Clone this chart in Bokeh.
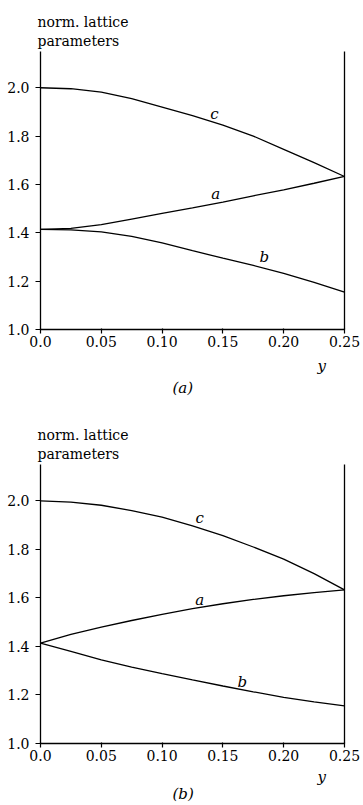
import numpy as np
from bokeh.plotting import figure
from bokeh.layouts import column
from bokeh.models import Label, LinearAxis, FixedTicker, Range1d, Title
from bokeh.embed import file_html
from bokeh.resources import INLINE

# ---- data ----
y_vals = [0.0, 0.025, 0.05, 0.075, 0.10, 0.125, 0.15, 0.175, 0.20, 0.225, 0.25]

# panel (a)
a_panel_a = [1.414, 1.418, 1.434, 1.457, 1.480, 1.503, 1.527, 1.553, 1.578, 1.605, 1.633]
b_panel_a = [1.414, 1.412, 1.404, 1.385, 1.358, 1.326, 1.295, 1.265, 1.232, 1.195, 1.155]
c_panel_a = [2.000, 1.996, 1.982, 1.955, 1.920, 1.885, 1.845, 1.800, 1.745, 1.690, 1.633]

# panel (b)
a_panel_b = [1.414, 1.450, 1.480, 1.507, 1.532, 1.556, 1.576, 1.594, 1.609, 1.622, 1.633]
b_panel_b = [1.414, 1.380, 1.345, 1.315, 1.288, 1.262, 1.237, 1.213, 1.190, 1.172, 1.155]
c_panel_b = [2.000, 1.995, 1.982, 1.960, 1.933, 1.897, 1.857, 1.810, 1.760, 1.700, 1.633]

x_ticks = [0.0, 0.05, 0.10, 0.15, 0.20, 0.25]
x_tick_labels = ["0.0", "0.05", "0.10", "0.15", "0.20", "0.25"]
y_ticks = [1.0, 1.2, 1.4, 1.6, 1.8, 2.0]
y_tick_labels = ["1.0", "1.2", "1.4", "1.6", "1.8", "2.0"]

title_text = "norm. lattice\nparameters"
x_axis_name = "y"
curve_names = ["a", "b", "c"]
panel_names = ["(a)", "(b)"]

SERIF = "DejaVu Serif"


def make_panel(a_vals, b_vals, c_vals, panel_name, height, top, bottom,
               title_standoff, xname_standoff, pname_standoff, lab_pos):
    p = figure(width=360, height=height, output_backend="svg", toolbar_location=None,
               x_range=Range1d(0.0, 0.25), y_range=Range1d(1.0, 2.15),
               min_border_left=40, min_border_right=16,
               min_border_top=top, min_border_bottom=bottom,
               background_fill_color="white", border_fill_color="white")
    p.outline_line_color = None
    p.grid.visible = False

    for ax in (p.xaxis[0], p.yaxis[0]):
        ax.axis_line_color = "black"
        ax.axis_line_width = 1.3
        ax.major_tick_line_color = "black"
        ax.major_tick_line_width = 1.2
        ax.minor_tick_line_color = None
        ax.major_label_text_font = SERIF
        ax.major_label_text_font_size = "14px"
        ax.major_label_text_color = "black"

    p.xaxis.ticker = FixedTicker(ticks=x_ticks)
    p.xaxis.major_label_overrides = {t: l for t, l in zip(x_ticks, x_tick_labels)}
    p.xaxis.major_tick_in = 1
    p.xaxis.major_tick_out = 4
    p.xaxis.major_label_standoff = 2

    p.yaxis.ticker = FixedTicker(ticks=y_ticks)
    p.yaxis.major_label_overrides = {t: l for t, l in zip(y_ticks, y_tick_labels)}
    p.yaxis.major_tick_in = 0
    p.yaxis.major_tick_out = 5
    p.yaxis.major_label_standoff = 6

    right = LinearAxis(ticker=FixedTicker(ticks=[]), major_label_text_font_size="0px",
                       axis_line_color="black", axis_line_width=1.3,
                       major_tick_line_color=None, minor_tick_line_color=None)
    p.add_layout(right, "right")

    for vals in (a_vals, b_vals, c_vals):
        p.line(y_vals, vals, line_color="black", line_width=1.3)

    for name, vals, (xl, off) in zip(curve_names, (a_vals, b_vals, c_vals), lab_pos):
        yl = float(np.interp(xl, y_vals, vals))
        p.add_layout(Label(x=xl, y=yl, y_offset=off, text=name, text_font=SERIF,
                           text_font_style="italic", text_font_size="15px",
                           text_align="center", text_baseline="middle",
                           text_color="black"))

    t = Title(text=title_text, align="left", offset=-3, standoff=title_standoff,
              text_font=SERIF, text_font_size="14px", text_font_style="normal",
              text_color="black", text_line_height=1.2)
    p.add_layout(t, "above")

    p.add_layout(Title(text=x_axis_name, align="left", offset=277, standoff=xname_standoff,
                       text_font=SERIF, text_font_style="italic", text_font_size="15px",
                       text_color="black"), "below")
    p.add_layout(Title(text=panel_name, align="left", offset=132, standoff=pname_standoff,
                       text_font=SERIF, text_font_style="italic", text_font_size="15px",
                       text_color="black"), "below")
    return p


p1 = make_panel(a_panel_a, b_panel_a, c_panel_a, panel_names[0], 399, 51, 70,
                5, 11, -8,
                [(0.144, 9), (0.184, 11), (0.143, 9)])
p2 = make_panel(a_panel_b, b_panel_b, c_panel_b, panel_names[1], 404, 65, 60,
                5, 5, -11,
                [(0.131, 7), (0.166, 8), (0.131, 10)])

layout = column(p1, p2, spacing=0)
open("out.html", "w").write(file_html(layout, INLINE))
